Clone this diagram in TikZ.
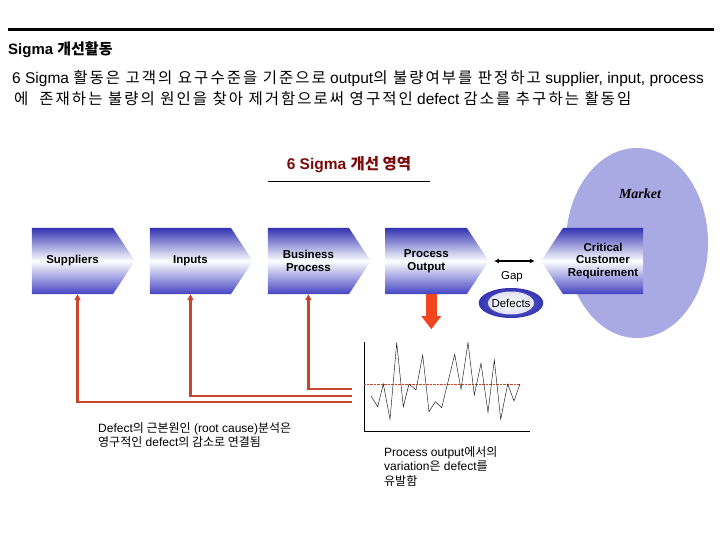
\documentclass[tikz,border=0pt]{standalone}
\usepackage{fontspec}
\usepackage{tikz}
\usepackage{xcolor}
\usetikzlibrary{arrows.meta, positioning, shapes.geometric, shapes.symbols}
\setmainfont{Liberation Sans}
\newfontfamily\kr{Noto Sans CJK KR}
\newfontfamily\krwide{Noto Sans CJK KR}[LetterSpace=13]
\newfontfamily\mkt{Liberation Serif}
\definecolor{chevblue}{HTML}{3434B4}
\definecolor{chevlow}{HTML}{4444C4}
\definecolor{market}{HTML}{A9A9E4}
\definecolor{feedback}{HTML}{C8462A}
\definecolor{bigred}{HTML}{F0461E}
\definecolor{heading}{HTML}{7A0A0A}
\tikzset{
  chevron/.style={
    signal, signal to=east, signal pointer angle=113,
    top color=chevblue, bottom color=chevlow, middle color=white,
    minimum width=103pt, minimum height=66pt, inner sep=0pt,
    font=\bfseries\fontsize{11.5}{12.5}\selectfont, align=center
  },
  fbline/.style={-{Triangle[length=6pt, width=6pt]}, line width=2.4pt, color=feedback},
  bigarrow/.style={-{Triangle[length=13pt, width=19pt]}, line width=11pt, color=bigred},
  gaparrow/.style={{Latex[length=5pt, width=5pt]}-{Latex[length=5pt, width=5pt]}, line width=1.6pt},
  bodytext/.style={anchor=west, inner sep=0pt, font=\fontsize{15.5}{17}\selectfont},
  note/.style={anchor=north west, inner sep=0pt, align=left, font=\fontsize{12}{14.5}\selectfont}
}

\begin{document}
\begin{tikzpicture}[x=1pt, y=-1pt, node distance=14.5pt]
    \fill[white] (0,0) rectangle (720,540);
    \useasboundingbox (0,0) rectangle (720,540);

    % heading and description
    \draw[line width=3pt] (8,30) -- (714,30);
    \node[anchor=west, inner sep=0pt, font=\bfseries\fontsize{15}{16}\selectfont] (title) at (8,50) {Sigma {\kr 개선활동}};
    \node[bodytext] (desc1) at (12,79) {6 Sigma {\krwide 활동은 고객의 요구수준을 기준으로} output{\krwide 의 불량여부를 판정하고} supplier, input, process};
    \node[bodytext] (desc2) at (14,99) {{\krwide 에 \ 존재하는 불량의 원인을 찾아 제거함으로써 영구적인} defect {\krwide 감소를 추구하는 활동임}};

    \node[font=\bfseries\fontsize{15.5}{16}\selectfont, text=heading] (area) at (349,165) {6 Sigma {\kr 개선 영역}};
    \draw (268,181) -- (430,181);

    % market
    \node[ellipse, fill=market, minimum width=142pt, minimum height=190pt] (mkt) at (637,243) {};
    \node[font=\mkt\bfseries\itshape\fontsize{14}{15}\selectfont] (mktlabel) at (640,194) {Market};

    % value chain
    \node[chevron] (sup) at (72.5,261) {Suppliers};
    \node[chevron, right=of sup] (inp) {Inputs};
    \node[chevron, right=of inp] (bp) {Business\\Process};
    \node[chevron, right=of bp] (po) {Process\\Output};
    \node[chevron, signal to=west, minimum width=102pt] (ccr) at (603,261) {Critical\\Customer\\Requirement};

    \draw[gaparrow] ([xshift=5pt]po.east) -- ([xshift=-6pt]ccr.west);
    \node[font=\fontsize{11.5}{12}\selectfont] (gap) at (512,277) {Gap};
    \node[ellipse, inner color=chevblue!70, outer color=chevblue, minimum width=58pt, minimum height=30pt,
          path picture={\shade[inner color=white, outer color=white!80!chevblue]
            (path picture bounding box.center) ellipse (23pt and 11.5pt);},
          font=\fontsize{11.5}{12}\selectfont] (defects) at (511,303) {Defects};

    \draw[bigarrow] ([xshift=5pt]po.south) -- ++(0,35);

    % control chart
    \draw (364,342) -- (364,431) -- (530,431);
    \draw[densely dotted, color=feedback] (364,384) -- (520,384);
    \draw plot coordinates {(371,396) (377.7,406.7) (383.3,384) (390,419.3) (396.7,342.7) (403.3,406.7)
      (409,384) (416,390) (422.7,355) (429,411.7) (435.3,401.7) (441.7,407.7) (454.7,354.3)
      (461,389.3) (468,342.7) (474.3,395) (481,363.3) (488,412.3) (494.3,360) (500.7,419.3)
      (507.7,384) (514,401) (520,384)};

    % feedback to the chain
    \coordinate (fb1) at (352,402);
    \coordinate (fb2) at (352,396);
    \coordinate (fb3) at (352,389);
    \draw[fbline] (fb1) -| ([xshift=5pt]sup.south);
    \draw[fbline] (fb2) -| (inp.south);
    \draw[fbline] (fb3) -| (bp.south);

    \node[note] (rootcause) at (98,422) {Defect{\kr 의 근본원인} (root cause){\kr 분석은}\\{\kr 영구적인} defect{\kr 의 감소로 연결됨}};
    \node[note] (variation) at (384,446) {Process output{\kr 에서의}\\variation{\kr 은} defect{\kr 를}\\{\kr 유발함}};
\end{tikzpicture}
\end{document}
